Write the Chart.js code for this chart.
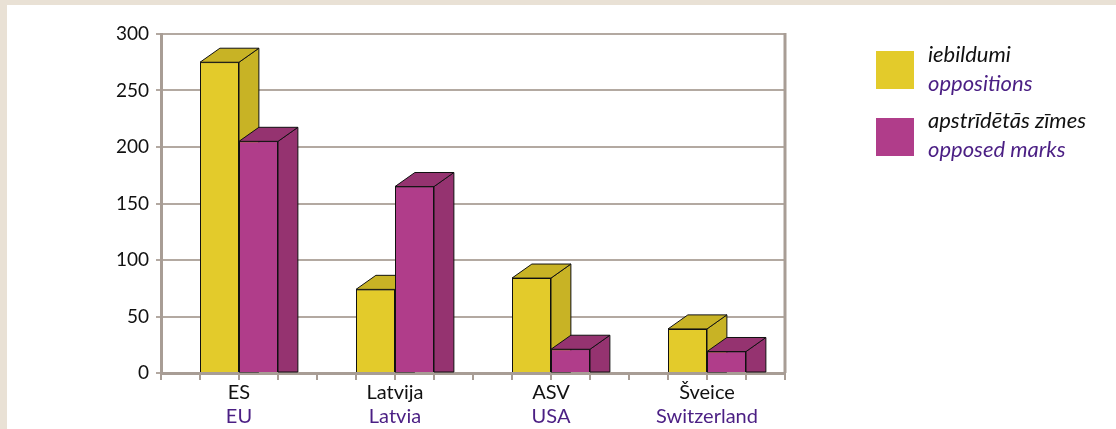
<!DOCTYPE html>
<html>
<head>
<meta charset="utf-8">
<script src="https://cdn.jsdelivr.net/npm/chart.js@4"></script>
<style>
html, body { margin: 0; padding: 0; }
body { width: 1116px; height: 429px; background: #e9e1d5; position: relative; overflow: hidden; font-family: Lato, sans-serif; }
#panel { position: absolute; left: 7px; top: 5px; right: 0; bottom: 0; background: #fff; }
#chart { position: absolute; left: 0; top: 0; }
.sw { position: absolute; left: 876px; width: 38px; height: 38px; }
.lt { position: absolute; left: 928px; font-style: italic; font-size: 22px; line-height: 29px; white-space: nowrap; color: #111; }
.lt span { display: block; }
.en { color: #4b1f84; }
</style>
</head>
<body>
<div id="panel"></div>
<canvas id="chart" width="1116" height="429"></canvas>

<div class="sw" style="top:51px;background:#e3cb2b"></div>
<div class="lt" style="top:39px"><span>iebildumi</span><span class="en">oppositions</span></div>
<div class="sw" style="top:118px;background:#b03d8a"></div>
<div class="lt" style="top:105px"><span>apstrīdētās zīmes</span><span class="en">opposed marks</span></div>

<script>
// data
const categoriesLv = ['ES', 'Latvija', 'ASV', 'Šveice'];
const categoriesEn = ['EU', 'Latvia', 'USA', 'Switzerland'];
const oppositions = [275, 74, 84, 39];
const opposedMarks = [205, 165, 21, 19];

const axisColor = '#a89d95';
const gridColor = '#b3a9a1';
const enColor = '#4b1f84';

// redraw bars left series first, each with its side + top faces
const depth = {
  id: 'depth',
  beforeDatasetsDraw(chart) {
    const a = chart.chartArea, c = chart.ctx;
    c.save();
    c.strokeStyle = axisColor;
    c.lineWidth = 3;
    c.beginPath();
    c.moveTo(a.right, a.top - 1);
    c.lineTo(a.right, a.bottom);
    c.stroke();
    c.restore();
  },
  afterDatasetsDraw(chart) {
    const c = chart.ctx;
    chart.data.datasets.forEach((ds, i) => {
      chart.getDatasetMeta(i).data.forEach(bar => {
        bar.draw(c);
        const { x, y, base, width } = bar.getProps(['x', 'y', 'base', 'width'], true);
        const l = x - width / 2, r = x + width / 2;
        const dx = width * 0.51, dy = width * 0.36;
        c.save();
        c.lineWidth = 1;
        c.strokeStyle = '#111';
        c.lineJoin = 'round';
        c.fillStyle = ds.sideColor;
        c.beginPath();
        c.moveTo(r, y); c.lineTo(r + dx, y - dy); c.lineTo(r + dx, base); c.lineTo(r, base);
        c.closePath(); c.fill(); c.stroke();
        c.beginPath();
        c.moveTo(l, y); c.lineTo(l + dx, y - dy); c.lineTo(r + dx, y - dy); c.lineTo(r, y);
        c.closePath(); c.fill(); c.stroke();
        c.restore();
      });
    });
  }
};

new Chart(document.getElementById('chart'), {
  type: 'bar',
  data: {
    labels: categoriesLv,
    datasets: [
      { label: 'iebildumi', data: oppositions, xAxisID: 'x', yAxisID: 'y',
        backgroundColor: '#e3cb2b', sideColor: '#c8b325',
        borderColor: '#111', borderWidth: 1, categoryPercentage: 0.5, barPercentage: 1 },
      { label: 'apstrīdētās zīmes', data: opposedMarks, xAxisID: 'x', yAxisID: 'y',
        backgroundColor: '#b03d8a', sideColor: '#953370',
        borderColor: '#111', borderWidth: 1, categoryPercentage: 0.5, barPercentage: 1 }
    ]
  },
  options: {
    responsive: false,
    animation: false,
    layout: { padding: { left: 0, top: 34, right: 331, bottom: 0 } },
    plugins: { legend: { display: false }, tooltip: { enabled: false } },
    scales: {
      x: {
        type: 'category', position: 'bottom', weight: 1,
        ticks: { color: '#111', padding: 0, font: { family: 'Lato', size: 20 } },
        grid: { display: false, drawTicks: false },
        border: { display: false },
        afterFit(s) { s.height = 22; }
      },
      y: {
        min: 0, max: 300,
        ticks: { stepSize: 50, color: '#111', padding: 7, font: { family: 'Lato', size: 19 } },
        grid: { color: gridColor, lineWidth: 2, tickLength: 5 },
        border: { color: axisColor, width: 3 },
        afterFit(s) { s.width = 161; }
      },
      xt: {
        type: 'linear', position: 'bottom', weight: 0, min: 0, max: 16, offset: false,
        ticks: { stepSize: 1, display: false },
        grid: { drawOnChartArea: false, color: axisColor, lineWidth: 2, tickLength: 7, offset: false },
        border: { color: axisColor, width: 3 },
        afterFit(s) { s.height = 8; }
      },
      xSub: {
        type: 'category', position: 'bottom', weight: 2, labels: categoriesEn,
        ticks: { color: enColor, padding: 2, font: { family: 'Lato', size: 20 } },
        grid: { display: false, drawTicks: false },
        border: { display: false },
        afterFit(s) { s.height = 26; }
      }
    }
  },
  plugins: [depth]
});
</script>
</body>
</html>
